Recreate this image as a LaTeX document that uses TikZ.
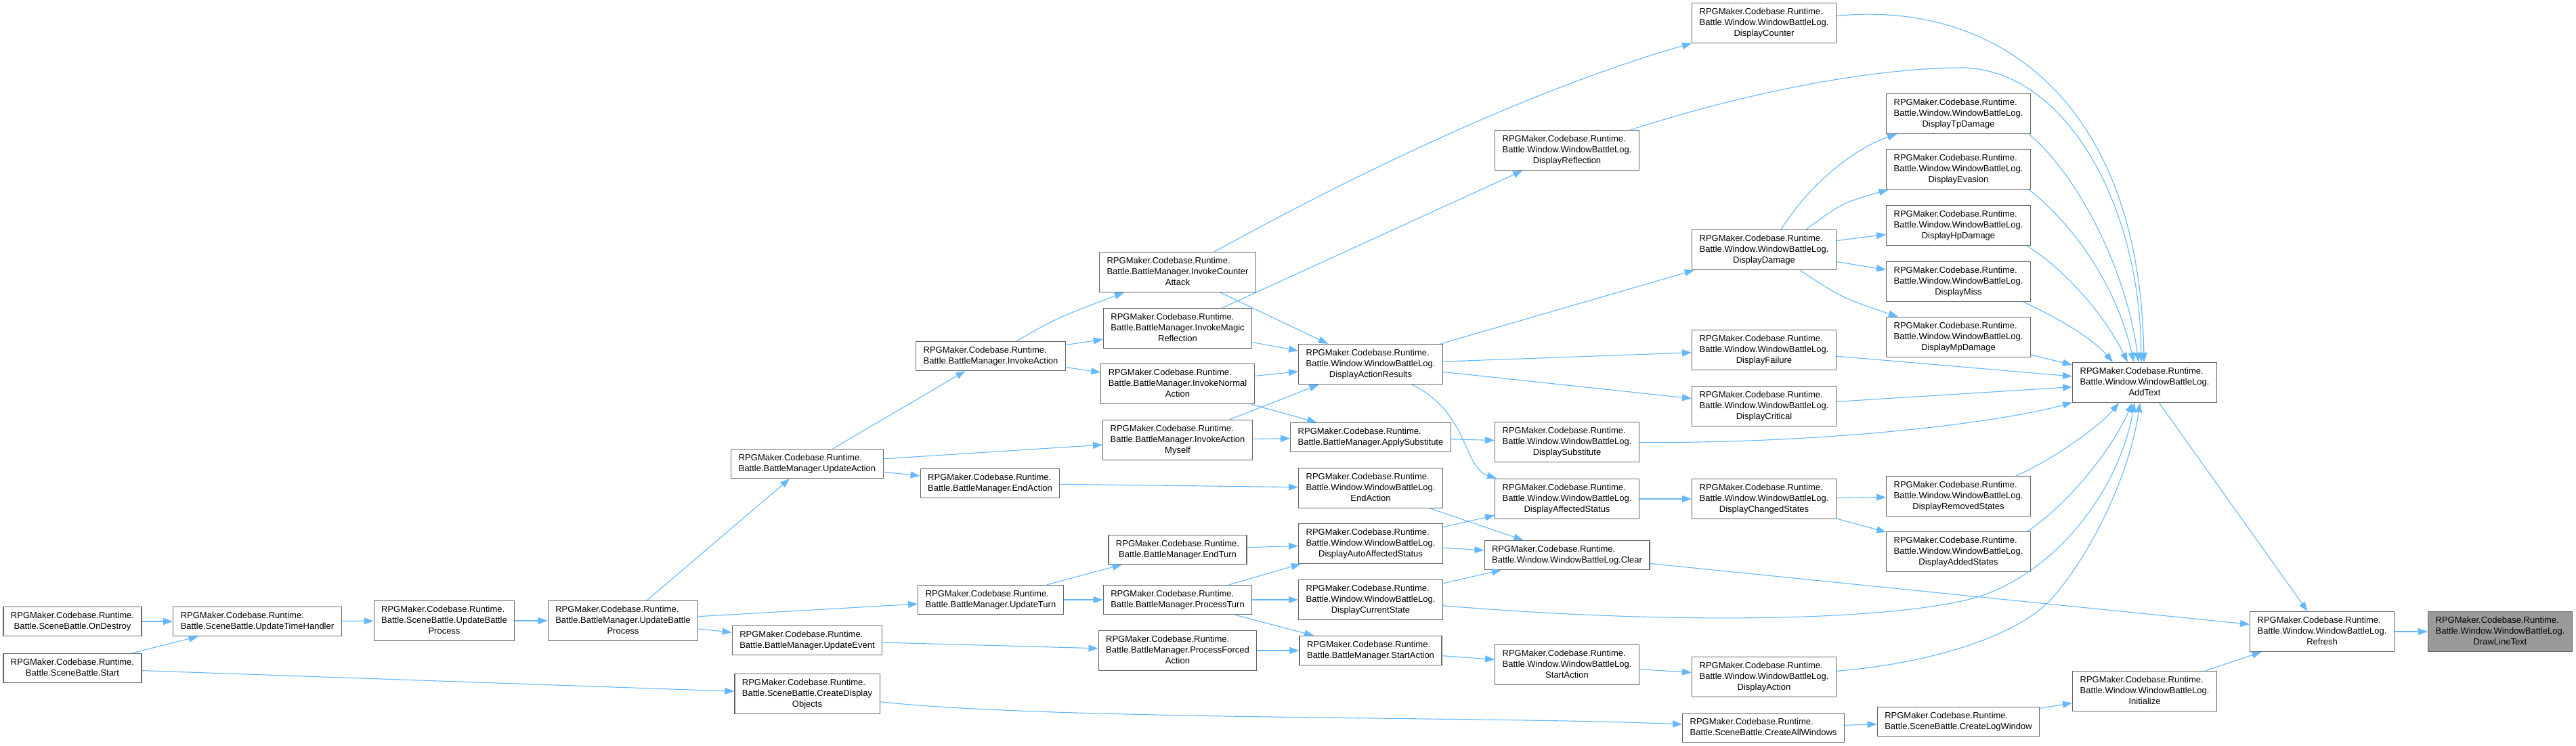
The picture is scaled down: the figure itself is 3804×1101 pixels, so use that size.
\documentclass[tikz,border=0pt]{standalone}
\usepackage{fontspec}
\setmainfont{Liberation Sans}
\usetikzlibrary{arrows.meta}
\definecolor{edgeblue}{RGB}{99, 184, 255}
\definecolor{boxgray}{RGB}{102, 102, 102}
\definecolor{hlgray}{RGB}{153, 153, 153}
% doxygen style labels: first lines left, last line centred
\newcommand{\twoline}[1]{\begin{tabular}{@{}l@{}}RPGMaker.Codebase.Runtime.\\\multicolumn{1}{@{}c@{}}{#1}\end{tabular}}
\newcommand{\threeline}[2]{\begin{tabular}{@{}l@{}}RPGMaker.Codebase.Runtime.\\#1\\\multicolumn{1}{@{}c@{}}{#2}\end{tabular}}
\newcommand{\wbl}[1]{\threeline{Battle.Window.WindowBattleLog.}{#1}}

\begin{document}
\begin{tikzpicture}[x=1pt, y=-1pt,
    func/.style={draw=boxgray, fill=white, line width=1.2pt, inner xsep=11pt, inner ysep=5.5pt,
      font=\fontsize{13}{16}\selectfont},
    call/.style={edgeblue, line width=1.1pt, -{Triangle[length=14pt,width=10pt]}}]
        \useasboundingbox (0,0) rectangle (3804,1101);
        % SceneBattle entry points
        \node[func] (ondestroy) at (107,918) {\twoline{Battle.SceneBattle.OnDestroy}};
        \node[func] (start) at (107,987) {\twoline{Battle.SceneBattle.Start}};
        \node[func] (timehandler) at (380,918) {\twoline{Battle.SceneBattle.UpdateTimeHandler}};
        \node[func] (sbprocess) at (656,917) {\threeline{Battle.SceneBattle.UpdateBattle}{Process}};
        \node[func] (bmprocess) at (920,917) {\threeline{Battle.BattleManager.UpdateBattle}{Process}};
        % BattleManager
        \node[func] (updaction) at (1192,685) {\twoline{Battle.BattleManager.UpdateAction}};
        \node[func] (updevent) at (1192,946) {\twoline{Battle.BattleManager.UpdateEvent}};
        \node[func] (dispobjects) at (1192,1025) {\threeline{Battle.SceneBattle.CreateDisplay}{Objects}};
        \node[func] (invaction) at (1463,526) {\twoline{Battle.BattleManager.InvokeAction}};
        \node[func] (bmendaction) at (1462,714) {\twoline{Battle.BattleManager.EndAction}};
        \node[func] (updturn) at (1463,886) {\twoline{Battle.BattleManager.UpdateTurn}};
        \node[func] (invcounter) at (1739,402) {\threeline{Battle.BattleManager.InvokeCounter}{Attack}};
        \node[func] (invmagic) at (1739,485) {\threeline{Battle.BattleManager.InvokeMagic}{Reflection}};
        \node[func] (invnormal) at (1739,567) {\threeline{Battle.BattleManager.InvokeNormal}{Action}};
        \node[func] (invmyself) at (1739,650) {\threeline{Battle.BattleManager.InvokeAction}{Myself}};
        \node[func] (endturn) at (1739,812) {\twoline{Battle.BattleManager.EndTurn}};
        \node[func] (procturn) at (1739,886) {\twoline{Battle.BattleManager.ProcessTurn}};
        \node[func] (procforced) at (1739,961) {\threeline{Battle.BattleManager.ProcessForced}{Action}};
        \node[func] (applysubst) at (2024,646) {\twoline{Battle.BattleManager.ApplySubstitute}};
        \node[func] (bmstartaction) at (2024,961) {\twoline{Battle.BattleManager.StartAction}};
        % WindowBattleLog
        \node[func] (actionresults) at (2024,538) {\wbl{DisplayActionResults}};
        \node[func] (wblendaction) at (2024,721) {\wbl{EndAction}};
        \node[func] (autoaffected) at (2024,803) {\wbl{DisplayAutoAffectedStatus}};
        \node[func] (currentstate) at (2024,886) {\wbl{DisplayCurrentState}};
        \node[func] (reflection) at (2314,222) {\wbl{DisplayReflection}};
        \node[func] (substitute) at (2314,653) {\wbl{DisplaySubstitute}};
        \node[func] (affected) at (2314,737) {\wbl{DisplayAffectedStatus}};
        \node[func] (clear) at (2314,820) {\twoline{Battle.Window.WindowBattleLog.Clear}};
        \node[func] (wblstartaction) at (2314,982) {\wbl{StartAction}};
        \node[func] (counter) at (2605,34) {\wbl{DisplayCounter}};
        \node[func] (damage) at (2605,369) {\wbl{DisplayDamage}};
        \node[func] (failure) at (2605,517) {\wbl{DisplayFailure}};
        \node[func] (critical) at (2605,600) {\wbl{DisplayCritical}};
        \node[func] (changed) at (2605,737) {\wbl{DisplayChangedStates}};
        \node[func] (dispaction) at (2605,1000) {\wbl{DisplayAction}};
        \node[func] (allwindows) at (2604,1075) {\twoline{Battle.SceneBattle.CreateAllWindows}};
        \node[func] (tpdamage) at (2892,168) {\wbl{DisplayTpDamage}};
        \node[func] (evasion) at (2892,250) {\wbl{DisplayEvasion}};
        \node[func] (hpdamage) at (2892,333) {\wbl{DisplayHpDamage}};
        \node[func] (miss) at (2892,416) {\wbl{DisplayMiss}};
        \node[func] (mpdamage) at (2892,498) {\wbl{DisplayMpDamage}};
        \node[func] (removed) at (2892,733) {\wbl{DisplayRemovedStates}};
        \node[func] (added) at (2892,815) {\wbl{DisplayAddedStates}};
        \node[func] (logwindow) at (2892,1066) {\twoline{Battle.SceneBattle.CreateLogWindow}};
        \node[func] (addtext) at (3167,565) {\wbl{AddText}};
        \node[func] (initialize) at (3167,1021) {\wbl{Initialize}};
        \node[func] (refresh) at (3429,933) {\wbl{Refresh}};
        \node[func, fill=hlgray] (drawline) at (3692,933) {\wbl{DrawLineText}};

        % left part
        \draw[call] (ondestroy) -- (timehandler);
        \draw[call] (start) -- (timehandler);
        \draw[call] (start) -- (dispobjects);
        \draw[call] (timehandler) -- (sbprocess);
        \draw[call] (sbprocess) -- (bmprocess);
        \draw[call] (bmprocess) -- (updaction);
        \draw[call] (bmprocess) -- (updturn);
        \draw[call] (bmprocess) -- (updevent);
        \draw[call] (updaction) -- (invaction);
        \draw[call] (updaction) -- (invmyself);
        \draw[call] (updaction) -- (bmendaction);
        \draw[call] ([xshift=38pt]invaction.north) .. controls (1560,470) .. (invcounter);
        \draw[call] (invaction) -- (invmagic);
        \draw[call] (invaction) -- (invnormal);
        \draw[call] (updturn) -- (endturn);
        \draw[call] (updturn) -- (procturn);
        \draw[call] (updevent) -- (procforced);
        \draw[call] (dispobjects) .. controls (1550,1064) and (2200,1058) .. (allwindows);
        % invoke calls
        \draw[call] (invcounter) .. controls (2050,230) and (2300,120) .. (counter);
        \draw[call] (invcounter) -- (actionresults);
        \draw[call] (invmagic) -- (reflection);
        \draw[call] (invmagic) -- (actionresults);
        \draw[call] (invnormal) -- (actionresults);
        \draw[call] (invnormal) -- (applysubst);
        \draw[call] (invmyself) -- (actionresults);
        \draw[call] (invmyself) -- (applysubst);
        \draw[call] (bmendaction) -- (wblendaction);
        \draw[call] (endturn) -- (autoaffected);
        \draw[call] (procturn) -- (autoaffected);
        \draw[call] (procturn) -- (currentstate);
        \draw[call] (procturn) -- (bmstartaction);
        \draw[call] (procforced) -- (bmstartaction);
        % window log calls
        \draw[call] (applysubst) -- (substitute);
        \draw[call] (wblendaction) -- (clear);
        \draw[call] (autoaffected) -- (affected);
        \draw[call] (autoaffected) -- (clear);
        \draw[call] (currentstate) -- (clear);
        \draw[call] (bmstartaction) -- (wblstartaction);
        \draw[call] (wblstartaction) -- (dispaction);
        \draw[call] (actionresults) -- (damage);
        \draw[call] (actionresults) -- (failure);
        \draw[call] (actionresults) -- (critical);
        \draw[call] ([xshift=61pt]actionresults.south) .. controls (2170,610) and (2160,690) .. ([xshift=3pt]affected.north west);
        \draw[call] (affected) -- (changed);
        \draw[call] ([xshift=25pt]damage.north) .. controls (2680,260) and (2750,215) .. (tpdamage);
        \draw[call] ([xshift=62pt]damage.north) .. controls (2720,300) .. (evasion);
        \draw[call] (damage) -- (hpdamage);
        \draw[call] (damage) -- (miss);
        \draw[call] ([xshift=53pt]damage.south) .. controls (2720,440) .. (mpdamage);
        \draw[call] (changed) -- (removed);
        \draw[call] (changed) -- (added);
        \draw[call] (allwindows) -- (logwindow);
        \draw[call] (logwindow) -- (initialize);
        % into AddText
        \draw[call] (counter) .. controls (2950,0) and (3160,150) .. ([xshift=-1pt]addtext.north);
        \draw[call] (reflection) .. controls (2600,130) and (2780,100) .. (2900,100)
          .. controls (3050,105) and (3160,300) .. ([xshift=-5pt]addtext.north);
        \draw[call] ([xshift=-3pt]tpdamage.south east) .. controls (3070,260) and (3140,400) .. ([xshift=-9pt]addtext.north);
        \draw[call] ([xshift=-3pt]evasion.south east) .. controls (3060,330) and (3125,420) .. ([xshift=-16pt]addtext.north);
        \draw[call] ([xshift=-6pt]hpdamage.south east) .. controls (3045,395) and (3105,460) .. ([xshift=-25pt]addtext.north);
        \draw[call] ([xshift=-11pt]miss.south east) .. controls (3040,470) and (3090,500) .. ([xshift=-47pt]addtext.north);
        \draw[call] (mpdamage) -- (addtext);
        \draw[call] (failure) -- (addtext);
        \draw[call] (critical) -- (addtext);
        \draw[call] (substitute) .. controls (2700,655) and (2950,625) .. (addtext);
        \draw[call] ([xshift=-22pt]removed.north east) .. controls (3030,680) and (3100,630) .. ([xshift=-38pt]addtext.south);
        \draw[call] ([xshift=-5pt]added.north east) .. controls (3060,740) and (3120,660) .. ([xshift=-18pt]addtext.south);
        \draw[call] (currentstate) .. controls (2500,925) and (2800,915) .. (2917,883)
          .. controls (3040,845) and (3130,720) .. ([xshift=-15pt]addtext.south);
        \draw[call] (dispaction) .. controls (2850,980) and (2980,940) .. (3031,883)
          .. controls (3090,815) and (3145,700) .. ([xshift=-7pt]addtext.south);
        % Refresh
        \draw[call] (addtext) -- (refresh);
        \draw[call] (clear) -- (refresh);
        \draw[call] (initialize) -- (refresh);
        \draw[call] (refresh) -- (drawline);
      \end{tikzpicture}
\end{document}
